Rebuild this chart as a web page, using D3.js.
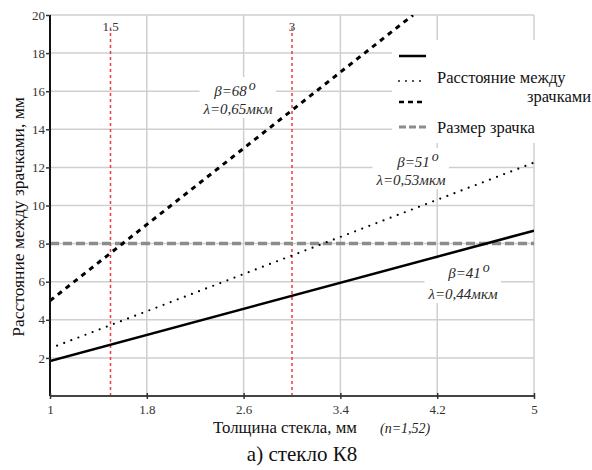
<!DOCTYPE html>
<html>
<head>
<meta charset="utf-8">
<script src="https://cdn.jsdelivr.net/npm/d3@7"></script>
<style>
  body { margin: 0; background: #fff; }
  svg { display: block; }
</style>
</head>
<body>
<div id="chart"></div>
<script>
// thickness of glass (mm) -> distance between pupils (mm)
const xTicks = [1, 1.8, 2.6, 3.4, 4.2, 5];
const yTicks = [2, 4, 6, 8, 10, 12, 14, 16, 18, 20];

const thickness = [1, 5];
const beta41 = [1.84, 8.68];   // solid
const beta51 = [2.5, 12.25];   // dotted
const thickness68 = [1, 4];
const beta68 = [5.0, 20.0];    // dashed
const pupilSize = [8, 8];      // grey dashed

const markers = [1.5, 3];
const markerLabels = ["1.5", "3"];

const width = 592, height = 470;

const svg = d3.select("#chart").append("svg")
    .attr("width", width)
    .attr("height", height);

const x = d3.scaleLinear().domain([1, 5]).range([50, 534]);
const y = d3.scaleLinear().domain([0, 20]).range([396, 15]);

const gridColor = "#cfcfcf";

// grid
svg.append("g")
  .selectAll("line")
  .data(xTicks)
  .join("line")
    .attr("x1", d => x(d)).attr("x2", d => x(d))
    .attr("y1", y(0)).attr("y2", y(20))
    .attr("stroke", gridColor)
    .attr("stroke-width", 1.5);

svg.append("g")
  .selectAll("line")
  .data(yTicks)
  .join("line")
    .attr("x1", x(1)).attr("x2", x(5))
    .attr("y1", d => y(d)).attr("y2", d => y(d))
    .attr("stroke", gridColor)
    .attr("stroke-width", 1.5);

// annotations boxes go over the grid (white background)
const annoLayer = svg.append("g");

// red markers
svg.append("g")
  .selectAll("line")
  .data(markers)
  .join("line")
    .attr("x1", d => x(d)).attr("x2", d => x(d))
    .attr("y1", y(0)).attr("y2", y(19.35))
    .attr("stroke", "#ee3b3b")
    .attr("stroke-width", 1.5)
    .attr("stroke-dasharray", "3,3");

svg.append("g")
  .selectAll("text")
  .data(markers)
  .join("text")
    .attr("x", d => x(d))
    .attr("y", y(20) + 16)
    .attr("text-anchor", "middle")
    .attr("font-size", 13)
    .attr("fill", "#333")
    .text((d, i) => markerLabels[i]);

const line = d3.line().x(d => x(d[0])).y(d => y(d[1]));

svg.append("defs").append("clipPath").attr("id", "clip")
  .append("rect")
    .attr("x", x(1)).attr("y", y(20))
    .attr("width", x(5) - x(1)).attr("height", y(0) - y(20));

const plot = svg.append("g").attr("clip-path", "url(#clip)");

plot.append("path")
    .attr("d", line(d3.zip(thickness, pupilSize)))
    .attr("fill", "none")
    .attr("stroke", "#8c8c8c")
    .attr("stroke-width", 3.5)
    .attr("stroke-dasharray", "9,4");

plot.append("path")
    .attr("d", line(d3.zip(thickness, beta41)))
    .attr("fill", "none")
    .attr("stroke", "#000")
    .attr("stroke-width", 2.5);

plot.append("path")
    .attr("d", line(d3.zip(thickness, beta51)))
    .attr("fill", "none")
    .attr("stroke", "#000")
    .attr("stroke-width", 2.2)
    .attr("stroke-linecap", "round")
    .attr("stroke-dasharray", "0,7.6");

plot.append("path")
    .attr("d", line(d3.zip(thickness68, beta68)))
    .attr("fill", "none")
    .attr("stroke", "#000")
    .attr("stroke-width", 3)
    .attr("stroke-dasharray", "5,5");

// axes
const yAxis = d3.axisLeft(y)
    .tickValues(yTicks)
    .tickSize(4)
    .tickPadding(1);

svg.append("g")
    .attr("transform", `translate(${x(1)},0)`)
    .call(yAxis)
    .attr("font-size", 13)
    .call(g => g.select(".domain").attr("stroke", "#111").attr("stroke-width", 2).attr("d", `M0,${y(0)}V${y(20)}`))
    .call(g => g.selectAll(".tick line").attr("stroke", "#333").attr("stroke-width", 1.5))
    .call(g => g.selectAll("text").attr("fill", "#333"));

const xAxis = d3.axisBottom(x)
    .tickValues(xTicks)
    .tickFormat(d => String(d))
    .tickSize(3)
    .tickPadding(6);

svg.append("g")
    .attr("transform", `translate(0,${y(0)})`)
    .call(xAxis)
    .attr("font-size", 13)
    .call(g => g.select(".domain").attr("stroke", "#444").attr("stroke-width", 2).attr("d", `M${x(1)},0H${x(5)}`))
    .call(g => g.selectAll(".tick line").attr("y1", -3).attr("stroke", "#333").attr("stroke-width", 1.5))
    .call(g => g.selectAll("text").attr("fill", "#333"));

// annotations
const annos = [
  { beta: "68", lambda: "0,65мкм", bx: 235, by: 96, lx: 238, ly: 114 },
  { beta: "51", lambda: "0,53мкм", bx: 418, by: 167, lx: 411, ly: 185 },
  { beta: "41", lambda: "0,44мкм", bx: 469, by: 278, lx: 463, ly: 299 }
];

// legend
const legend = svg.append("g");
legend.append("rect")
    .attr("x", 392).attr("y", 40)
    .attr("width", 200).attr("height", 103)
    .attr("fill", "#fff");

const legendItems = [
  { y: 56, width: 2.5, color: "#000", dash: null, cap: "butt" },
  { y: 81, width: 1.8, color: "#000", dash: "0,7", cap: "round" },
  { y: 102, width: 2.4, color: "#000", dash: "5,4", cap: "butt" },
  { y: 127, width: 3.2, color: "#8c8c8c", dash: "7,3", cap: "butt" }
];

legend.selectAll("line")
  .data(legendItems)
  .join("line")
    .attr("x1", 399).attr("x2", 426)
    .attr("y1", d => d.y).attr("y2", d => d.y)
    .attr("stroke", d => d.color)
    .attr("stroke-width", d => d.width)
    .attr("stroke-linecap", d => d.cap)
    .attr("stroke-dasharray", d => d.dash);

legend.append("text")
    .attr("x", 437).attr("y", 83)
    .attr("font-size", 16.5)
    .attr("fill", "#111")
    .text("Расстояние между");
legend.append("text")
    .attr("x", 591).attr("y", 102)
    .attr("text-anchor", "end")
    .attr("font-size", 16.5)
    .attr("fill", "#111")
    .text("зрачками");
legend.append("text")
    .attr("x", 437).attr("y", 133)
    .attr("font-size", 16.5)
    .attr("fill", "#111")
    .text("Размер зрачка");

// axis titles
svg.append("text")
    .attr("transform", "rotate(-90)")
    .attr("x", -217)
    .attr("y", 24)
    .attr("text-anchor", "middle")
    .attr("font-size", 17.5)
    .attr("fill", "#111")
    .text("Расстояние между зрачками, мм");

svg.append("text")
    .attr("x", 213)
    .attr("y", 433)
    .attr("font-size", 16.8)
    .attr("fill", "#111")
    .text("Толщина стекла, мм");

svg.append("text")
    .attr("x", 380)
    .attr("y", 433)
    .attr("font-size", 14)
    .attr("font-style", "italic")
    .attr("fill", "#222")
    .text("(n=1,52)");

svg.append("text")
    .attr("x", 302)
    .attr("y", 461)
    .attr("text-anchor", "middle")
    .attr("font-size", 21)
    .attr("fill", "#111")
    .text("а) стекло К8");

// serif everywhere (inline style so nothing overrides it)
svg.selectAll("text").style("font-family", "'Liberation Serif'");

annos.forEach(a => {
  const g = annoLayer.append("g");
  const t1 = g.append("text")
      .attr("x", a.bx).attr("y", a.by)
      .attr("text-anchor", "middle")
      .attr("font-size", 15)
      .attr("font-style", "italic")
      .attr("fill", "#2a2a2a")
      .style("font-family", "'Liberation Serif'");
  t1.append("tspan").text("β=" + a.beta);
  t1.append("tspan").attr("dy", -6).attr("dx", 2).attr("font-size", 14).text("o");
  g.append("text")
      .attr("x", a.lx).attr("y", a.ly)
      .attr("text-anchor", "middle")
      .attr("font-size", 15)
      .attr("font-style", "italic")
      .attr("fill", "#2a2a2a")
      .style("font-family", "'Liberation Serif'")
      .text("λ=" + a.lambda);
  const bb = g.node().getBBox();
  g.insert("rect", ":first-child")
      .attr("x", bb.x - 3).attr("y", bb.y - 1)
      .attr("width", bb.width + 6).attr("height", bb.height + 2)
      .attr("fill", "#fff");
});
</script>
</body>
</html>
